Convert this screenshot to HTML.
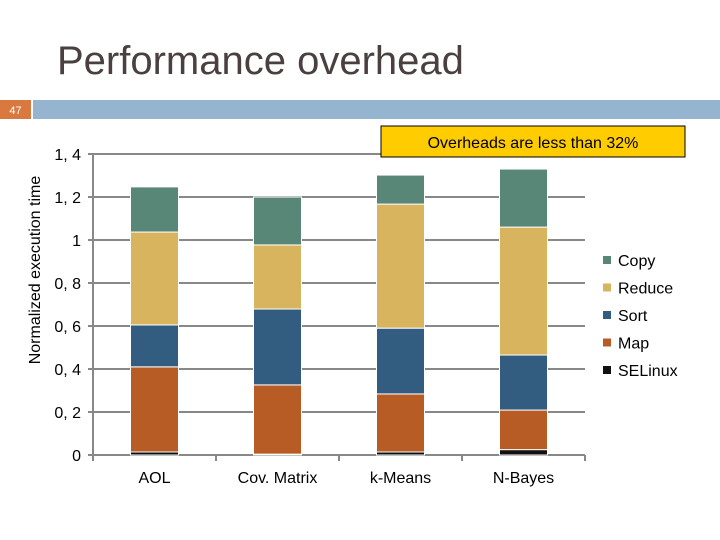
<!DOCTYPE html>
<html><head><meta charset="utf-8"><style>
body{margin:0;width:720px;height:540px;background:#fff;overflow:hidden;font-family:"Liberation Sans",sans-serif}
svg{position:absolute;left:0;top:0}
</style></head><body>
<svg width="720" height="540" id="s">
<text x="57" y="74" font-size="40" fill="#4a4040">Performance overhead</text>
<rect x="0" y="100" width="31" height="19" fill="#d9793f"/>
<text x="15.5" y="114" font-size="11" fill="#fff" text-anchor="middle">47</text>
<rect x="33" y="100" width="687" height="19" fill="#95b4d0"/>
<text transform="translate(40,270) rotate(-90)" font-size="16" fill="#000" text-anchor="middle">Normalized execution time</text>
<g id="chart"></g>
<rect x="381" y="126" width="304" height="31" fill="#ffcc00" stroke="#000" stroke-width="1"/>
<text x="533" y="148" font-size="16" text-anchor="middle" fill="#000">Overheads are less than 32%</text>
</svg>
<script>
const categories=["AOL","Cov. Matrix","k-Means","N-Bayes"];
const seriesNames=["SELinux","Map","Sort","Reduce","Copy"];
const colors=["#111111","#b85c25","#325d80","#d8b45e","#588778"];
const selinux=[0.014,0.004,0.014,0.025];
const map=[0.396,0.322,0.27,0.184];
const sort=[0.195,0.353,0.306,0.256];
const reduce=[0.432,0.298,0.577,0.595];
const copy=[0.21,0.223,0.135,0.27];
const yTicks=[0,0.2,0.4,0.6,0.8,1,1.2,1.4];
const yTickLabels=["0","0, 2","0, 4","0, 6","0, 8","1","1, 2","1, 4"];
const series=[selinux,map,sort,reduce,copy];
const NS="http://www.w3.org/2000/svg";
const g=document.getElementById("chart");
const x0=93,x1=585,y0=455,pxPerUnit=215;
const y=v=>y0-v*pxPerUnit;
const bandW=(x1-x0)/categories.length;
const xc=i=>x0+bandW*(i+0.5);
function mk(t,a){const e=document.createElementNS(NS,t);for(const k in a)e.setAttribute(k,a[k]);g.appendChild(e);return e;}
yTicks.forEach((v,i)=>{
 const l=mk("line",{x1:x0-5,x2:x1,y1:y(v),y2:y(v),stroke:"#888","stroke-width":2});
 
 
 const t=mk("text",{x:x0-12,y:y(v)+6,"font-size":16,"text-anchor":"end",fill:"#000"});
 t.textContent=yTickLabels[i];
 
 
});
const ax=mk("line",{x1:x0,x2:x0,y1:y(1.4),y2:y0+5,stroke:"#888","stroke-width":2});


for(let i=0;i<=categories.length;i++){
 const tk=mk("line",{x1:x0+bandW*i,x2:x0+bandW*i,y1:y0,y2:y0+6,stroke:"#888","stroke-width":2});
 
 
}
categories.forEach((c,i)=>{
 let acc=0;
 series.forEach((s,j)=>{
  const v=s[i];
  const r=mk("rect",{x:xc(i)-24,width:48,y:y(acc+v),height:v*pxPerUnit,fill:colors[j],stroke:"#fff","stroke-width":1});
  
  
  acc+=v;
 });
 const t=mk("text",{x:xc(i),y:483,"font-size":16,"text-anchor":"middle",fill:"#000"});
 t.textContent=c;
 
 
});
const legendOrder=[4,3,2,1,0];
legendOrder.forEach((j,k)=>{
 const yy=261+k*27.5;
 const r=mk("rect",{x:603,y:yy-5,width:8,height:8,fill:colors[j]});
 
 
 const t=mk("text",{x:618,y:yy+5,"font-size":16,fill:"#000"});
 t.textContent=seriesNames[j];
 
 
});
</script>
</body></html>
